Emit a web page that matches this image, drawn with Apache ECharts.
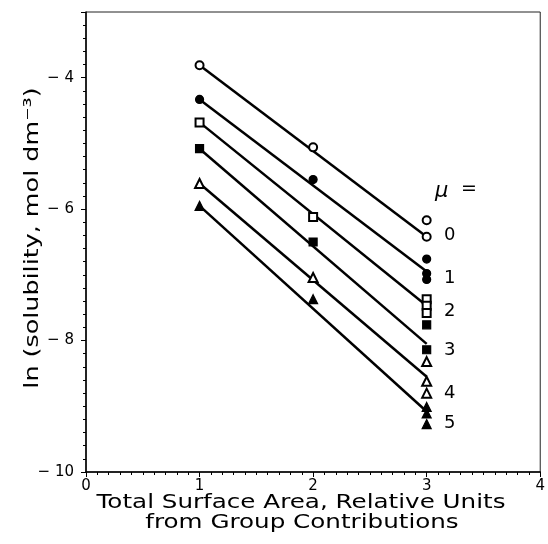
<!DOCTYPE html>
<html>
<head>
<meta charset="utf-8">
<script src="https://cdn.jsdelivr.net/npm/echarts@6/dist/echarts.min.js"></script>
<style>
  html, body { margin: 0; padding: 0; background: #fff; }
  #chart { width: 548px; height: 544px; }
</style>
</head>
<body>
<div id="chart"></div>
<script>
// measured points, one list per ionic strength mu
var pts0 = [[1, -3.81], [2, -5.06], [3, -6.17], [3, -6.42]]
var pts1 = [[1, -4.33], [2, -5.55], [3, -6.76], [3, -6.98], [3, -7.07]]
var pts2 = [[1, -4.68], [2, -6.12], [3, -7.37], [3, -7.47], [3, -7.58]]
var pts3 = [[1, -5.08], [2, -6.50], [3, -7.76], [3, -8.14]]
var pts4 = [[1, -5.61], [2, -7.04], [3, -8.32], [3, -8.62], [3, -8.80]]
var pts5 = [[1, -5.95], [2, -7.37], [3, -9.01], [3, -9.11], [3, -9.27]]
// fitted lines, value at x=1 and x=3
var fitX = [1, 3]
var fitStart = [-3.81, -4.33, -4.68, -5.08, -5.61, -5.95]
var fitEnd = [-6.42, -6.95, -7.47, -8.05, -8.55, -9.08]
var muLabels = ['0', '1', '2', '3', '4', '5']
var xTitle = ['Total Surface Area, Relative Units', 'from Group Contributions']
var yTitle = 'ln (solubility, mol dm⁻³)'

var font = 'DejaVu Sans'
var allPts = [pts0, pts1, pts2, pts3, pts4, pts5]
var symbols = ['emptyCircle', 'circle', 'emptyRect', 'rect', 'emptyTriangle', 'triangle']
var sizes = [8, 8, 8, 8, 9, 9]

var series = []
for (var i = 0; i < 6; i++) {
    series.push({
        type: 'line',
        data: [[fitX[0], fitStart[i]], [fitX[1], fitEnd[i]]],
        showSymbol: false,
        lineStyle: { color: '#000', width: 2.5 },
        silent: true,
        z: 2
    })
    series.push({
        type: 'scatter',
        data: allPts[i],
        symbol: symbols[i],
        symbolSize: sizes[i],
        itemStyle: { color: '#000', borderColor: '#000', borderWidth: 1.2, opacity: 1 },
        z: 3
    })
}

var muY = [237, 280, 313, 352, 395, 425]
var graphics = [{
    type: 'text', left: 435, top: 181,
    style: { text: 'μ', font: 'italic 21px ' + font, fill: '#000' }
}, {
    type: 'text', left: 461, top: 180,
    style: { text: '=', font: '19px ' + font, fill: '#000' }
}, {
    // axis titles, stretched to the wide lettering of the original
    type: 'text', x: 301, y: 503, scaleX: 1.23,
    style: { text: xTitle[0], font: '20px ' + font, fill: '#000', textAlign: 'center', textVerticalAlign: 'middle' }
}, {
    type: 'text', x: 302, y: 523, scaleX: 1.23,
    style: { text: xTitle[1], font: '20px ' + font, fill: '#000', textAlign: 'center', textVerticalAlign: 'middle' }
}, {
    type: 'text', x: 33, y: 238, rotation: Math.PI / 2, scaleX: 1.27,
    style: { text: yTitle, font: '20px ' + font, fill: '#000', textAlign: 'center', textVerticalAlign: 'middle' }
}]
for (var j = 0; j < muLabels.length; j++) {
    graphics.push({
        type: 'text', left: 444, top: muY[j] - 11,
        style: { text: muLabels[j], font: '18px ' + font, fill: '#000' }
    })
}

var chart = echarts.init(document.getElementById('chart'))
chart.setOption({
    animation: false,
    backgroundColor: '#fff',
    grid: {
        left: 86, right: 4, top: 12, bottom: 72,
        show: true, borderColor: '#222', borderWidth: 1
    },
    xAxis: {
        type: 'value', min: 0, max: 4, interval: 1,
        axisLine: { lineStyle: { color: '#000', width: 1.5 } },
        axisTick: { length: 5, lineStyle: { color: '#000' } },
        minorTick: { show: true, splitNumber: 10, length: 3, lineStyle: { color: '#000' } },
        axisLabel: { fontFamily: font, fontSize: 15, color: '#000', margin: 7 },
        splitLine: { show: false }
    },
    yAxis: {
        type: 'value', min: -10, max: -3, interval: 2,
        axisLine: { lineStyle: { color: '#000', width: 1.5 } },
        axisTick: { length: 5, lineStyle: { color: '#000' } },
        minorTick: { show: true, splitNumber: 10, length: 3, lineStyle: { color: '#000' } },
        axisLabel: {
            fontFamily: font, fontSize: 15, color: '#000', margin: 12, showMaxLabel: false,
            formatter: function (v) { return v < 0 ? '− ' + (-v) : '' + v }
        },
        splitLine: { show: false }
    },
    graphic: graphics,
    series: series
})
</script>
</body>
</html>
